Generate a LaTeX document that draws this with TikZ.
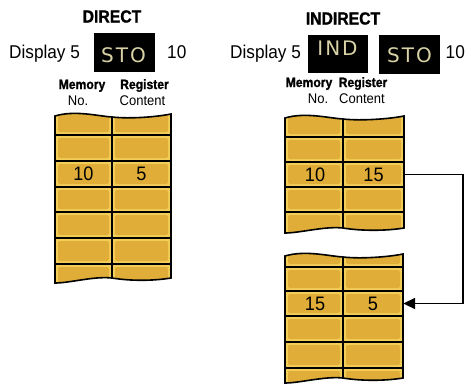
\documentclass[tikz,border=0pt]{standalone}
\usepackage{fontspec}
\setmainfont{Liberation Sans}
\newfontfamily\condfont{Liberation Sans}[FakeStretch=0.93]
\newfontfamily\heavyfont{Liberation Sans Bold}[FakeStretch=0.9,FakeBold=1.2]
\newfontfamily\keyfont{DejaVu Sans}[LetterSpace=10]
\usetikzlibrary{arrows.meta}

\definecolor{cellrim}{HTML}{F2CD58}
\definecolor{cellcore}{HTML}{E0AD38}
\definecolor{keylabel}{HTML}{D9D2A6}

% memory strip: x left, x middle, x right, top, bottom, row lines
\newcommand{\memstrip}[6]{%
	\def\sxa{#1}\def\sxm{#2}\def\sxb{#3}\def\sya{#4}\def\syb{#5}%
	\def\soutline{(\sxa,\sya) .. controls (\sxa+20,\sya-6) and (\sxm-15,\sya) .. (\sxm,\sya+1)
		.. controls (\sxm+18,\sya+3) and (\sxb-15,\sya+1) .. (\sxb,\sya-2)
		-- (\sxb,\syb-5)
		.. controls (\sxb-18,\syb-2) and (\sxm+18,\syb-2) .. (\sxm,\syb-5)
		.. controls (\sxm-18,\syb-7) and (\sxa+15,\syb) .. (\sxa,\syb) -- cycle}%
	\fill[cellrim] \soutline;
	\begin{scope}
		\clip \soutline;
		\foreach \y [remember=\y as \yp (initially #4-8)] in {#6,#5+8}{
			\fill[cellcore,rounded corners=2pt] (\sxa+3,\yp+3) rectangle (\sxm-3,\y-3);
			\fill[cellcore,rounded corners=2pt] (\sxm+3,\yp+3) rectangle (\sxb-3,\y-3);
		}
	\end{scope}
	\foreach \y in {#6} \draw[gridline] (\sxa,\y) -- (\sxb,\y);
	\draw[gridline] (\sxm,\sya+1) -- (\sxm,\syb-5);
	\draw[gridline] \soutline;
}

\begin{document}
\begin{tikzpicture}[x=1pt,y=-1pt]
	\tikzstyle{gridline}=[line width=1.6pt,black]
	\tikzstyle{title}=[font=\heavyfont\fontsize{17.5}{18}\selectfont,inner sep=0]
	\tikzstyle{disp}=[font=\condfont\fontsize{18.5}{20}\selectfont,inner sep=0]
	\tikzstyle{keybox}=[fill=black,minimum width=61pt,minimum height=39pt,inner sep=0]
	\tikzstyle{keytext}=[text=keylabel,font=\keyfont\fontsize{20}{22}\selectfont,inner sep=0]
	\tikzstyle{colhead}=[font=\heavyfont\fontsize{13.5}{15}\selectfont,inner sep=0,anchor=base]
	\tikzstyle{colsub}=[font=\condfont\fontsize{14}{15}\selectfont,inner sep=0,anchor=base]
	\tikzstyle{cell}=[font=\condfont\fontsize{19.5}{20}\selectfont,inner sep=0,minimum height=25pt]
	\tikzstyle{link}=[line width=1.8pt,-{Triangle[length=12pt,width=11pt]}]

	\useasboundingbox (0,0) rectangle (465,386);

	% direct
	\node[title] (dtitle) at (112,16.5) {DIRECT};
	\node[disp,anchor=base west] (ddisp) at (9,58) {Display 5};
	\node[keybox] (dsto) at (124.5,52.5) {};
	\node[keytext] (dstol) at (123.5,55.5) {STO};
	\node[disp,anchor=base west] (dreg) at (167,58) {10};
	\node[colhead] (dmem) at (82,89) {Memory};
	\node[colhead] (dregh) at (144.5,89) {Register};
	\node[colsub] (dno) at (78,105) {No.};
	\node[colsub] (dcont) at (142.5,105) {Content};

	\memstrip{55}{112}{171}{116}{283}{135,161,187,212,238,264}
	\node[cell,minimum width=57pt] (dnum) at (83.5,174) {10};
	\node[cell,minimum width=59pt] (dval) at (141.5,174) {5};

	% indirect
	\node[title] (ititle) at (343,18.5) {INDIRECT};
	\node[disp,anchor=base west] (idisp) at (230,58) {Display 5};
	\node[keybox,minimum width=60pt,minimum height=38pt] (iind) at (338,54) {};
	\node[keytext] (iindl) at (337.5,48) {IND};
	\node[keybox] (isto) at (409.5,54) {};
	\node[keytext] (istol) at (409.5,55) {STO};
	\node[disp,anchor=base west] (ireg) at (445.5,58) {10};
	\node[colhead] (imem) at (309,87) {Memory};
	\node[colhead] (iregh) at (363,87) {Register};
	\node[colsub] (ino) at (318,103) {No.};
	\node[colsub] (icont) at (362,103) {Content};

	\memstrip{285}{343}{404}{118}{233}{137,162,187,212}
	\node[cell,minimum width=58pt] (unum) at (315,174.5) {10};
	\node[cell,minimum width=61pt] (uval) at (373.5,174.5) {15};

	\memstrip{285}{343}{403}{256}{383}{267,291,316,342,368}
	\node[cell,minimum width=58pt] (lnum) at (315,303.5) {15};
	\node[cell,minimum width=60pt] (lval) at (373,303.5) {5};

	\draw[link] (uval.east) -- ++(59,0) |- (lval.east);
\end{tikzpicture}
\end{document}
